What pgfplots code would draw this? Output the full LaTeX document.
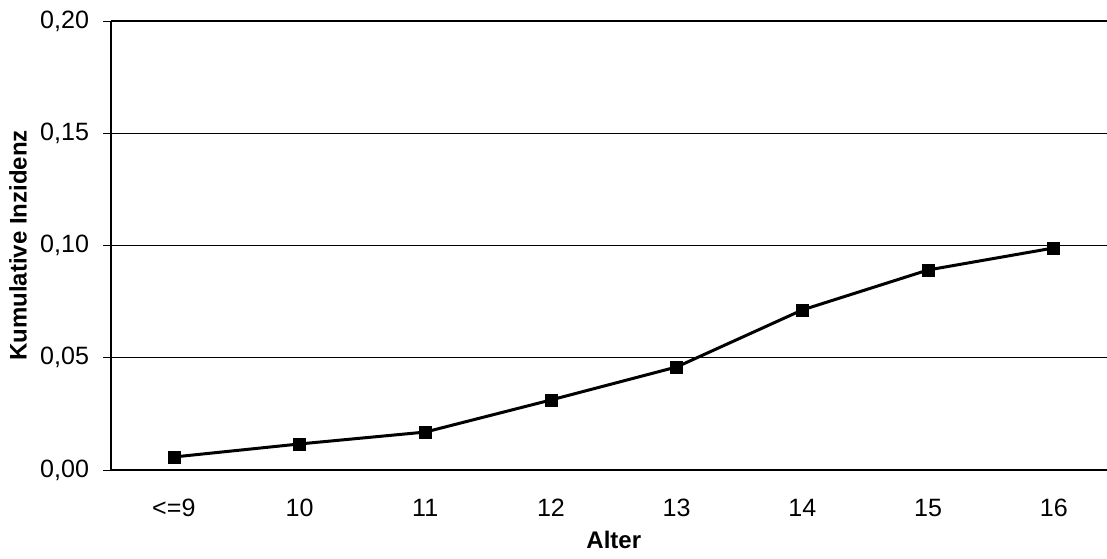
\documentclass[border=0pt]{standalone}
\usepackage{pgfplots}
\pgfplotsset{compat=1.18}
\usepackage{fontspec}
\setmainfont{Liberation Sans}
\begin{document}
\begin{tikzpicture}[font=\fontsize{18.8pt}{22pt}\selectfont]
\begin{axis}[
  at={(0,0)}, anchor=south west,
  scale only axis,
  width=754.2pt, height=336.75pt,
  xmin=-0.5, xmax=7.5,
  ymin=0, ymax=0.2,
  xtick={0,1,2,3,4,5,6,7},
  xticklabels={{<=9},10,11,12,13,14,15,16},
  ytick={0,0.05,0.1,0.15,0.2},
  ytick pos=left,
  tick align=outside,
  major tick length=6pt,
  x tick style={draw=none},
  y tick style={black, line width=0.75pt},
  x tick label style={yshift=-12.5pt},
  y tick label style={xshift=-7pt},
  yticklabel style={/pgf/number format/.cd, use comma, fixed, fixed zerofill, precision=2, assume math mode=true},
  ymajorgrids,
  grid style={black, line width=0.75pt},
  axis line style={draw=none},
  xlabel={\textbf{Alter}},
  ylabel={\textbf{Kumulative Inzidenz}},
  every axis x label/.style={at={(axis description cs:0.5,-0.156)}, anchor=center, font=\fontsize{18pt}{21pt}\selectfont},
  every axis y label/.style={at={(axis description cs:-0.0925,0.5)}, rotate=90, anchor=center, font=\fontsize{18pt}{21pt}\selectfont},
  clip=false,
]
\addplot[black, line width=2.25pt, mark=square*, mark size=4.5pt, mark options={solid, line width=0.5pt}] coordinates {
  (0,0.0058) (1,0.0116) (2,0.0169) (3,0.0312) (4,0.0459) (5,0.0713) (6,0.0891) (7,0.0989)
};
\draw[black, line width=1.5pt] (rel axis cs:0,0) -- (rel axis cs:1,0);
\draw[black, line width=1.5pt] (rel axis cs:0,1) -- (rel axis cs:1,1);
\draw[black, line width=1.5pt] (rel axis cs:0,0) -- (rel axis cs:0,1);
\end{axis}
\pgfresetboundingbox
\useasboundingbox (-83.25pt,-66pt) rectangle (747pt,352.5pt);
\end{tikzpicture}
\end{document}
